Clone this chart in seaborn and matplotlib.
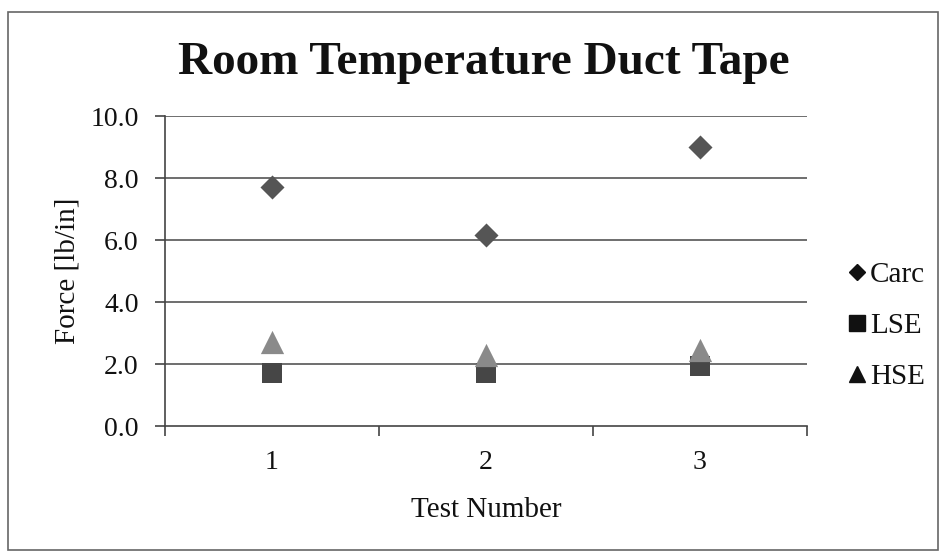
import matplotlib
matplotlib.use("Agg")
import matplotlib.pyplot as plt
from matplotlib.lines import Line2D
from matplotlib.patches import Rectangle
import seaborn as sns
import pandas as pd

# Peel force per test, lb/in
tests = [1, 2, 3]
carc = [7.7, 6.15, 9.0]
lse = [1.7, 1.7, 1.95]
hse = [2.7, 2.3, 2.45]
series_names = ["Carc", "LSE", "HSE"]
y_ticks = [0, 2, 4, 6, 8, 10]

df = pd.DataFrame({
    "Test": tests * 3,
    "Force": carc + lse + hse,
    "Series": [s for s in series_names for _ in tests],
})

sns.set_theme(style="white")
plt.rcParams["font.family"] = ["Liberation Serif", "DejaVu Serif"]

fig = plt.figure(figsize=(9.43, 5.54), dpi=100)
ax = fig.add_axes([165 / 943, 1 - 426 / 554, 642 / 943, 310 / 554])

colors = {"Carc": "#555555", "LSE": "#464646", "HSE": "#8a8a8a"}
markers = {"Carc": "D", "LSE": "s", "HSE": "^"}
sizes = {"Carc": 150, "LSE": 190, "HSE": 280}

for name in series_names:
    sub = df[df["Series"] == name]
    sns.scatterplot(data=sub, x="Test", y="Force", ax=ax, color=colors[name],
                    marker=markers[name], s=sizes[name], linewidth=0,
                    legend=False, zorder=3)

ax.set_xlim(0.5, 3.5)
ax.set_ylim(0, 10)
ax.set_yticks(y_ticks)
ax.set_yticklabels([f"{v:.1f}" for v in y_ticks])
ax.set_xticks([1, 2, 3])
ax.set_xticklabels([str(t) for t in tests])
ax.set_xticks([0.5, 1.5, 2.5, 3.5], minor=True)

for y in y_ticks[1:]:
    ax.axhline(y, color="#555555", lw=1.2, zorder=1)

for side in ["top", "right"]:
    ax.spines[side].set_visible(False)
for side in ["left", "bottom"]:
    ax.spines[side].set_color("#444444")
    ax.spines[side].set_linewidth(1.2)

ax.tick_params(axis="y", which="major", left=True, length=7, width=1.2,
               color="#444444", labelsize=20, pad=12, labelcolor="#111111")
ax.tick_params(axis="x", which="major", bottom=False, labelsize=20, pad=11,
               labelcolor="#111111")
ax.tick_params(axis="x", which="minor", bottom=True, length=7, width=1.2,
               color="#444444")

ax.set_xlabel("Test Number", fontsize=21, color="#111111", labelpad=16)
ax.set_ylabel("Force [lb/in]", fontsize=21, color="#111111", labelpad=7)

fig.suptitle("Room Temperature Duct Tape", x=484 / 943, y=1 - 63 / 554,
             va="center", fontsize=34, fontweight="bold", color="#111111")

handles = [Line2D([], [], linestyle="none", marker=markers[n], color="#111111",
                  markersize=ms) for n, ms in zip(series_names, [8.5, 11.5, 11.5])]
ax.legend(handles, series_names, loc="center left", frameon=False,
          bbox_to_anchor=(832 / 943, 1 - 326 / 554),
          bbox_transform=fig.transFigure, fontsize=21, handlelength=0.7,
          handletextpad=0.1, labelspacing=0.85, borderpad=0,
          labelcolor="#111111")

fig.patches.append(Rectangle((8 / 943, 4 / 554), 930 / 943, 538 / 554,
                             transform=fig.transFigure, fill=False,
                             edgecolor="#666666", lw=1.2))

fig.savefig("out.png", dpi=100)
